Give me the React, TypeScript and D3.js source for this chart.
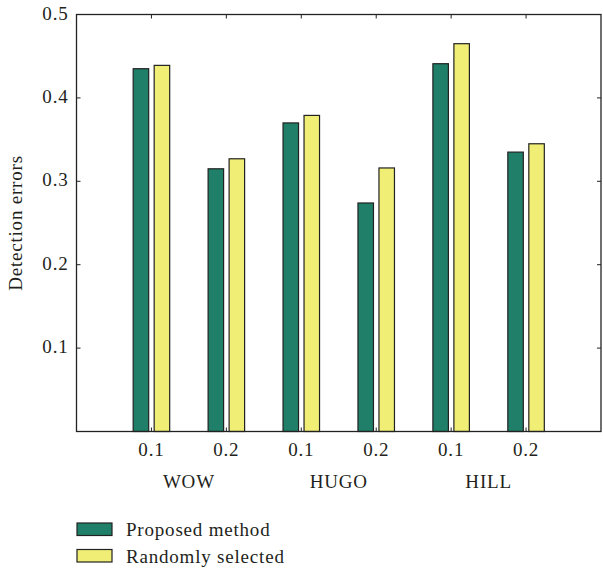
import React, { useEffect, useRef } from "react";
import * as d3 from "d3";

const groups = ["WOW", "HUGO", "HILL"];
const rates = ["0.1", "0.2", "0.1", "0.2", "0.1", "0.2"];
const proposed = [0.435, 0.315, 0.37, 0.274, 0.441, 0.335];
const randomly = [0.439, 0.327, 0.379, 0.316, 0.465, 0.345];
const yTicks = [0.1, 0.2, 0.3, 0.4, 0.5];
const seriesNames = ["Proposed method", "Randomly selected"];
const colors = ["#1f7f68", "#f1ee76"];

const App = () => {
  const ref = useRef<SVGSVGElement>(null);

  useEffect(() => {
    const svg = d3.select(ref.current);
    svg.selectAll("*").remove();

    const width = 603;
    const height = 569;
    const margin = { top: 14.5, right: 2, bottom: 137.5, left: 76.5 };
    const font = "'Liberation Serif', 'Times New Roman', serif";
    const fs = 19;
    const ls = 0.8;

    const x = d3
      .scaleLinear()
      .domain([0, 7])
      .range([margin.left, width - margin.right]);
    const y = d3
      .scaleLinear()
      .domain([0, 0.5])
      .range([height - margin.bottom, margin.top]);

    const g = svg.append("g");
    const barW = 15.5;
    const off = 10.5;

    const txt = sel =>
      sel
        .attr("font-family", font)
        .attr("font-size", fs)
        .attr("letter-spacing", ls)
        .attr("fill", "#231f20");

    const series = [proposed, randomly];
    series.forEach((vals, s) => {
      g.append("g")
        .selectAll("rect")
        .data(vals)
        .join("rect")
        .attr("x", (d, i) => x(i + 1) + (s === 0 ? -off : off) - barW / 2)
        .attr("y", d => y(d))
        .attr("width", barW)
        .attr("height", d => y(0) - y(d))
        .attr("fill", colors[s])
        .attr("stroke", "#222")
        .attr("stroke-width", 1.2);
    });

    // frame
    g.append("rect")
      .attr("x", x(0))
      .attr("y", y(0.5))
      .attr("width", x(7) - x(0))
      .attr("height", y(0) - y(0.5))
      .attr("fill", "none")
      .attr("stroke", "#222")
      .attr("stroke-width", 1.3);

    // y ticks inside, both sides
    const yt = [0, ...yTicks];
    g.append("g")
      .selectAll("line")
      .data(yt)
      .join("line")
      .attr("x1", x(0))
      .attr("x2", x(0) + 4)
      .attr("y1", d => y(d))
      .attr("y2", d => y(d))
      .attr("stroke", "#222");
    g.append("g")
      .selectAll("line")
      .data(yt)
      .join("line")
      .attr("x1", x(7))
      .attr("x2", x(7) - 4)
      .attr("y1", d => y(d))
      .attr("y2", d => y(d))
      .attr("stroke", "#222");

    // x ticks inside, top and bottom
    const xt = d3.range(1, 7);
    g.append("g")
      .selectAll("line")
      .data(xt)
      .join("line")
      .attr("x1", d => x(d))
      .attr("x2", d => x(d))
      .attr("y1", y(0))
      .attr("y2", y(0) - 4)
      .attr("stroke", "#222");
    g.append("g")
      .selectAll("line")
      .data(xt)
      .join("line")
      .attr("x1", d => x(d))
      .attr("x2", d => x(d))
      .attr("y1", y(0.5))
      .attr("y2", y(0.5) + 4)
      .attr("stroke", "#222");

    // y tick labels
    g.append("g")
      .selectAll("text")
      .data(yTicks)
      .join("text")
      .attr("x", x(0) - 8)
      .attr("y", d => y(d) + 5)
      .attr("text-anchor", "end")
      .call(txt)
      .text(d => d.toFixed(1));

    // x tick labels
    g.append("g")
      .selectAll("text")
      .data(rates)
      .join("text")
      .attr("x", (d, i) => x(i + 1))
      .attr("y", 456)
      .attr("text-anchor", "middle")
      .call(txt)
      .text(d => d);

    // group labels
    g.append("g")
      .selectAll("text")
      .data(groups)
      .join("text")
      .attr("x", (d, i) => x(i * 2 + 1.5))
      .attr("y", 488)
      .attr("text-anchor", "middle")
      .call(txt)
      .text(d => d);

    // y axis title
    g.append("text")
      .attr("transform", `translate(22,${(y(0) + y(0.5)) / 2}) rotate(-90)`)
      .attr("text-anchor", "middle")
      .call(txt)
      .text("Detection errors");

    // legend
    const leg = g
      .append("g")
      .selectAll("g")
      .data(seriesNames)
      .join("g")
      .attr("transform", (d, i) => `translate(77,${523 + i * 26.5})`);
    leg
      .append("rect")
      .attr("width", 35)
      .attr("height", 12.5)
      .attr("fill", (d, i) => colors[i])
      .attr("stroke", "#222")
      .attr("stroke-width", 1.2);
    leg
      .append("text")
      .attr("x", 49)
      .attr("y", 13)
      .call(txt)
      .text(d => d);
  }, []);

  return (
    <svg
      ref={ref}
      width={603}
      height={569}
      style={{ position: "absolute", left: 0, top: 0, background: "#fff" }}
    />
  );
};

export default App;
